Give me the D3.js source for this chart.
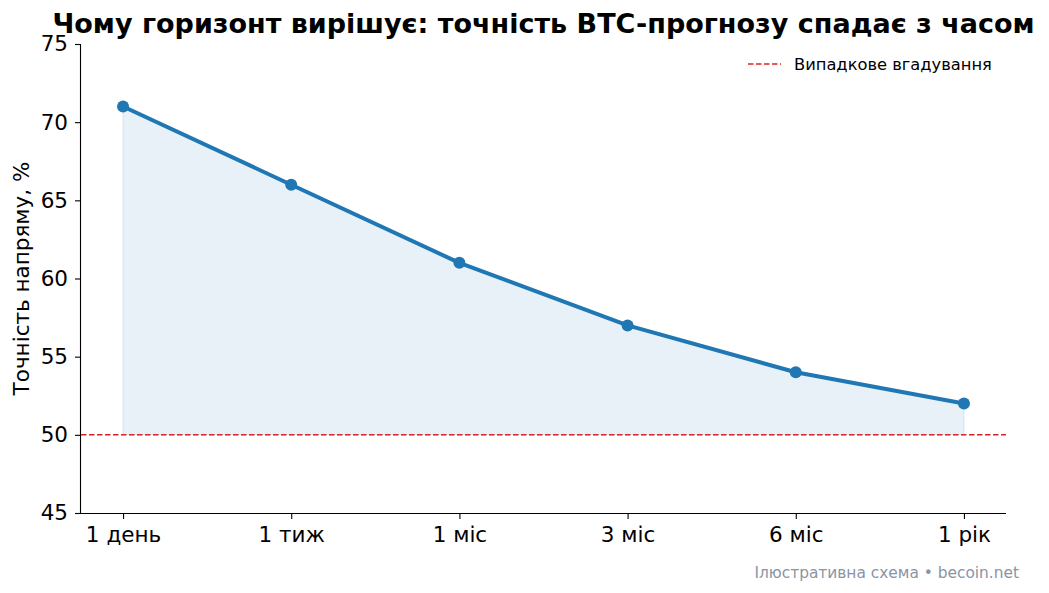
<!DOCTYPE html>
<html>
<head>
<meta charset="utf-8">
<script src="https://cdn.jsdelivr.net/npm/d3@7"></script>
<style>
  body { margin: 0; background: #fff; }
  svg { font-family: "DejaVu Sans", sans-serif; }
</style>
</head>
<body>
<svg id="chart" width="1049" height="593"></svg>
<script>
// data
const horizons = ["1 день", "1 тиж", "1 міс", "3 міс", "6 міс", "1 рік"];
const accuracy = [71, 66, 61, 57, 54, 52];
const baseline = 50;
const yTicks = [45, 50, 55, 60, 65, 70, 75];

const svg = d3.select("#chart"),
    margin = {top: 44, right: 43, bottom: 80, left: 81},
    width = +svg.attr("width") - margin.left - margin.right,
    height = +svg.attr("height") - margin.top - margin.bottom;

const x = d3.scalePoint()
    .domain(horizons)
    .range([0, width])
    .padding(0.25);

const y = d3.scaleLinear()
    .domain([45, 75])
    .range([height, 0]);

const g = svg.append("g")
    .attr("transform", `translate(${margin.left},${margin.top})`);

const pts = horizons.map((h, i) => ({h: h, v: accuracy[i]}));

// shaded area between baseline and the line
g.append("path")
    .datum(pts)
    .attr("fill", "#1f77b4")
    .attr("fill-opacity", 0.1)
    .attr("stroke", "#1f77b4")
    .attr("stroke-opacity", 0.1)
    .attr("stroke-width", 1.5)
    .attr("d", d3.area()
        .x(d => x(d.h))
        .y0(y(baseline))
        .y1(d => y(d.v)));

// random guess line
g.append("line")
    .attr("x1", 0).attr("x2", width)
    .attr("y1", y(baseline)).attr("y2", y(baseline))
    .attr("stroke", "#d62728")
    .attr("stroke-width", 1.5)
    .attr("stroke-dasharray", "5.5,2.5");

g.append("path")
    .datum(pts)
    .attr("fill", "none")
    .attr("stroke", "#1f77b4")
    .attr("stroke-width", 4)
    .attr("stroke-linejoin", "round")
    .attr("d", d3.line().x(d => x(d.h)).y(d => y(d.v)));

g.selectAll("circle.pt")
    .data(pts)
    .enter().append("circle")
    .attr("class", "pt")
    .attr("cx", d => x(d.h))
    .attr("cy", d => y(d.v))
    .attr("r", 6)
    .attr("fill", "#1f77b4");

// axes
const xAxis = g.append("g")
    .attr("transform", `translate(0,${height})`)
    .call(d3.axisBottom(x).tickSize(6).tickPadding(8));

const yAxis = g.append("g")
    .call(d3.axisLeft(y).tickValues(yTicks).tickSize(6).tickPadding(7));

[xAxis, yAxis].forEach(a => {
    a.selectAll("text").attr("font-size", 21.5).attr("fill", "#000")
        .attr("font-family", "DejaVu Sans");
    a.selectAll("line").attr("stroke", "#000").attr("stroke-width", 1.1);
    a.select(".domain").attr("stroke", "#000").attr("stroke-width", 1.1);
});
xAxis.select(".domain").attr("d", `M0,0.5H${width}`);
yAxis.select(".domain").attr("d", `M-0.5,${height}V0`);

// y label
svg.append("text")
    .attr("transform", `translate(29,${margin.top + height / 2}) rotate(-90)`)
    .attr("text-anchor", "middle")
    .attr("font-size", 21.5)
    .text("Точність напряму, %");

// title
svg.append("text")
    .attr("x", margin.left + width / 2)
    .attr("y", 33)
    .attr("text-anchor", "middle")
    .attr("font-size", 27)
    .attr("font-weight", "bold")
    .text("Чому горизонт вирішує: точність BTC-прогнозу спадає з часом");

// legend
const lg = svg.append("g").attr("transform", "translate(748,64)");
lg.append("line")
    .attr("x1", 0).attr("x2", 33)
    .attr("stroke", "#d62728")
    .attr("stroke-width", 1.5)
    .attr("stroke-dasharray", "5.5,2.5");
lg.append("text")
    .attr("x", 46).attr("y", 5.5)
    .attr("font-size", 16.3)
    .text("Випадкове вгадування");

// footer
svg.append("text")
    .attr("x", 1019).attr("y", 578)
    .attr("text-anchor", "end")
    .attr("font-size", 15.4)
    .attr("fill", "#8a94a6")
    .text("Ілюстративна схема • becoin.net");
</script>
</body>
</html>
